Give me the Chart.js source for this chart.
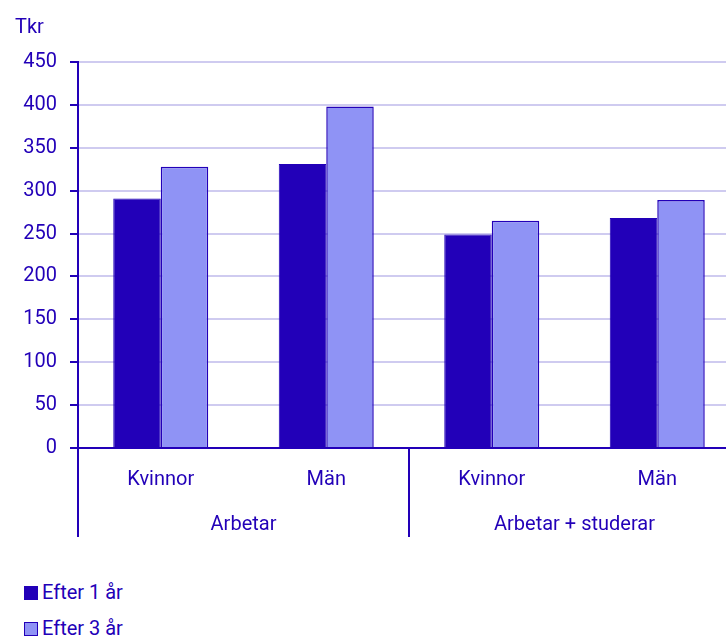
<!DOCTYPE html>
<html>
<head>
<meta charset="utf-8">
<script src="https://cdn.jsdelivr.net/npm/chart.js@4/dist/chart.umd.min.js"></script>
<style>
  body { margin: 0; overflow: hidden; background: #fff; font-family: Roboto, sans-serif; color: #2200b8; }
  #wrap { position: relative; width: 760px; height: 637px; }
  #unit { position: absolute; left: 15px; top: 14px; font-size: 20px; line-height: 24px; }
  #legend { position: absolute; left: 24px; top: 580px; font-size: 20px; }
  .item { height: 36px; line-height: 24px; display: flex; align-items: flex-start; }
  .box { width: 12px; height: 12px; margin-top: 6px; margin-right: 4px; border: 1px solid #2200b8; }
</style>
</head>
<body>
<div id="wrap">
  <div id="unit">Tkr</div>
  <canvas id="myCanvas" width="760" height="545"></canvas>
  <div id="legend"></div>
</div>
<script>
// data
var categories = ['Kvinnor', 'Män', 'Kvinnor', 'Män'];
var groups = ['Arbetar', 'Arbetar + studerar'];
var efter1 = [291, 331, 249, 268];
var efter3 = [328, 398, 265, 289];
var seriesNames = ['Efter 1 år', 'Efter 3 år'];
var yTicks = [0, 50, 100, 150, 200, 250, 300, 350, 400, 450];

var dark = '#2200b8';
var light = '#8f93f5';
var grid = '#cfcbf0';

// draws the group row under the categories plus the separator lines
var groupPlugin = {
  id: 'groupRow',
  afterDraw: function (chart) {
    var ctx = chart.ctx;
    var x = chart.scales.x;
    var area = chart.chartArea;
    var bottom = x.bottom;
    var half = (x.getPixelForValue(1) - x.getPixelForValue(0)) / 2;
    ctx.save();
    ctx.strokeStyle = dark;
    ctx.lineWidth = 2;
    // separators at start, middle and end of the groups
    [0, 2, 4].forEach(function (i) {
      var px = x.getPixelForValue(0) - half + i * 2 * half;
      ctx.beginPath();
      ctx.moveTo(px, area.bottom);
      ctx.lineTo(px, bottom);
      ctx.stroke();
    });
    ctx.fillStyle = dark;
    ctx.font = '20px Roboto';
    ctx.textAlign = 'center';
    ctx.textBaseline = 'middle';
    groups.forEach(function (g, i) {
      var cx = (x.getPixelForValue(i * 2) + x.getPixelForValue(i * 2 + 1)) / 2;
      ctx.fillText(g, cx, bottom - 12);
    });
    ctx.restore();
  }
};

var ctx = document.getElementById('myCanvas').getContext('2d');
var myChart = new Chart(ctx, {
  type: 'bar',
  data: {
    labels: categories,
    datasets: [{
      label: seriesNames[0],
      data: efter1,
      backgroundColor: dark,
      borderColor: dark,
      borderWidth: 1
    }, {
      label: seriesNames[1],
      data: efter3,
      backgroundColor: light,
      borderColor: dark,
      borderWidth: 1.5
    }]
  },
  options: {
    responsive: false,
    animation: false,
    categoryPercentage: 0.574,
    barPercentage: 1,
    layout: { padding: { left: 0, right: 20, top: 62, bottom: 8 } },
    plugins: {
      legend: { display: false },
      tooltip: { enabled: false }
    },
    scales: {
      x: {
        grid: { display: false },
        border: { color: dark, width: 2 },
        ticks: { color: dark, font: { family: 'Roboto', size: 20 }, padding: 12, maxRotation: 0 },
        afterFit: function (scale) { scale.height = 89; }
      },
      y: {
        min: 0,
        max: 450,
        afterBuildTicks: function (scale) {
          scale.ticks = yTicks.map(function (v) { return { value: v }; });
        },
        grid: { color: grid, lineWidth: 2, tickColor: dark, tickLength: 8 },
        border: { color: dark, width: 2 },
        ticks: { color: dark, font: { family: 'Roboto', size: 20 }, padding: 13 },
        afterFit: function (scale) { scale.width = 78; }
      }
    }
  },
  plugins: [groupPlugin]
});

// legend, one row per series
var legend = document.getElementById('legend');
[dark, light].forEach(function (c, i) {
  var row = document.createElement('div');
  row.className = 'item';
  row.innerHTML = '<span class="box" style="background:' + c + '"></span><span>' + seriesNames[i] + '</span>';
  legend.appendChild(row);
});
</script>
</body>
</html>
